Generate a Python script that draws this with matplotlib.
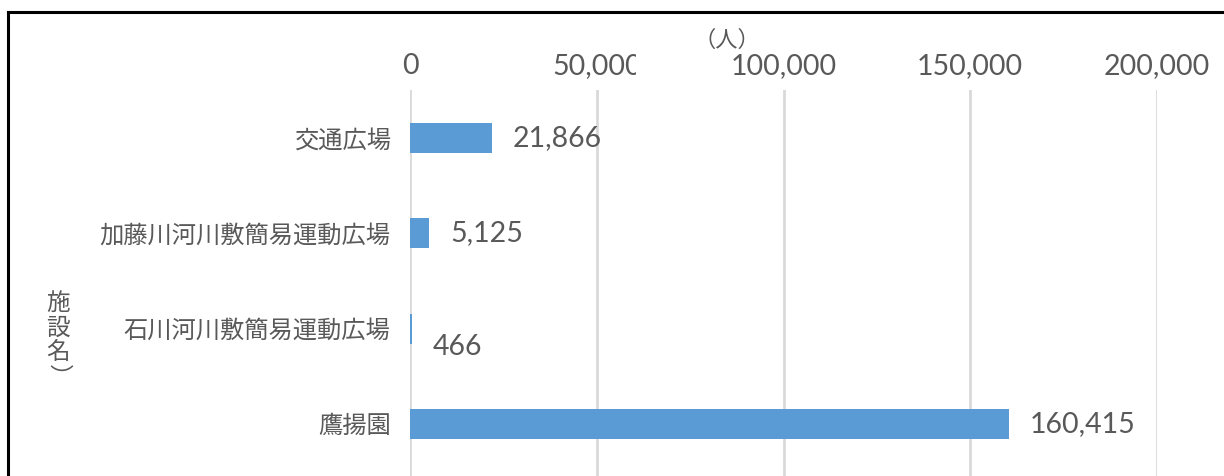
import matplotlib.pyplot as plt
from matplotlib.lines import Line2D
from matplotlib.patches import Rectangle
from matplotlib.ticker import FuncFormatter

plt.rcParams['font.family'] = ['Lato', 'Noto Sans CJK JP', 'DejaVu Sans']

# データ
facilities = ['交通広場', '加藤川河川敷簡易運動広場', '石川河川敷簡易運動広場', '鷹揚園']
visitors = [21866, 5125, 466, 160415]
x_ticks = [0, 50000, 100000, 150000, 200000]

W, H = 1224, 476
fig = plt.figure(figsize=(W / 100, H / 100), dpi=100)
ax = fig.add_axes([410 / W, 0, (1157 - 410) / W, (H - 90) / H])

gray = '#595959'
cjk = ['Noto Sans CJK JP', 'DejaVu Sans']
ax.barh(range(len(facilities)), visitors, height=0.31, color='#5b9bd5', zorder=3)

spacing = 95.5
ax.set_ylim(-0.5 + (H - 90) / spacing, -0.5)
ax.set_xlim(0, 200000)
ax.set_yticks(range(len(facilities)))
ax.set_yticklabels(facilities, fontsize=17.5, color=gray)
ax.set_xticks(x_ticks)
ax.xaxis.set_major_formatter(FuncFormatter(lambda v, p: f'{int(v):,}'))
ax.xaxis.tick_top()
ax.tick_params(axis='x', length=0, pad=8, labelsize=20.5, labelcolor=gray)
ax.tick_params(axis='y', length=0, pad=14)
ax.grid(axis='x', color='#d9d9d9', linewidth=2, zorder=0)
for s in ax.spines.values():
    s.set_visible(False)

# データラベル
for i, v in enumerate(visitors):
    dy = 18 if v == 466 else 0
    ax.annotate(f'{v:,}', (v, i), xytext=(15, -dy * 0.72), textcoords='offset points',
                ha='left', va='center', fontsize=20.5, color=gray)

# 軸タイトル
fig.text(727 / W, 1 - 40 / H, '（人）', ha='center', va='center', fontsize=16,
         color=gray, family=cjk)
fig.add_artist(Rectangle((636 / W, 1 - 84 / H), 54 / W, 34 / H, transform=fig.transFigure,
                         facecolor='white', edgecolor='none', zorder=10))
for ch, yp in zip(['施', '設', '名'], [303, 328, 352]):
    fig.text(58 / W, 1 - yp / H, ch, ha='center', va='center', fontsize=17,
             color=gray, family=cjk)
fig.text(58 / W, 1 - 376 / H, '）', ha='center', va='center', fontsize=17,
         color=gray, family=cjk, rotation=-90)

# 枠線
fig.add_artist(Line2D([8 / W, 8 / W], [0, 1 - 12 / H], color='black', linewidth=2.2))
fig.add_artist(Line2D([8 / W, 1], [1 - 12 / H, 1 - 12 / H], color='black', linewidth=2.2))

fig.savefig('out.png', dpi=100)
